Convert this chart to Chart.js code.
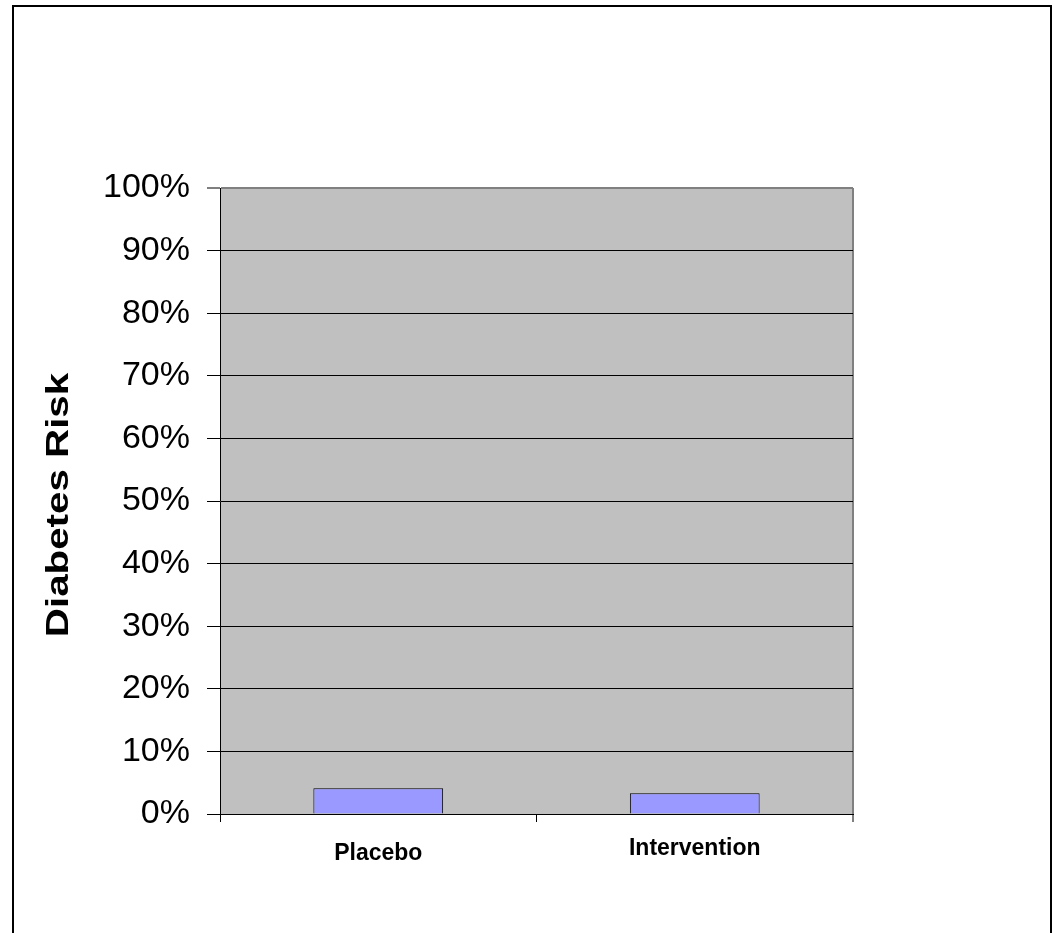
<!DOCTYPE html>
<html>
<head>
<meta charset="utf-8">
<script src="https://cdn.jsdelivr.net/npm/chart.js@4/dist/chart.umd.min.js"></script>
<style>
  html, body { margin: 0; padding: 0; background: #fff; overflow: hidden; }
  #c { position: absolute; left: 0; top: 0; }
  #frame {
    position: absolute; left: 12px; top: 5px; width: 1040px; height: 1000px;
    border: 2px solid #000; box-sizing: border-box; pointer-events: none;
  }
</style>
</head>
<body>
<canvas id="c" width="1054" height="933"></canvas>
<div id="frame"></div>
<script>
// Chart data
const categories = ['Placebo', 'Intervention'];
const riskPercent = [4.1, 3.3];
const yTickLabels = ['0%', '10%', '20%', '30%', '40%', '50%', '60%', '70%', '80%', '90%', '100%'];

Chart.defaults.font.family = '"Liberation Sans", Arial, sans-serif';
Chart.defaults.color = '#000';

// Grey plot-area fill behind the gridlines
const plotBackground = {
  id: 'plotBackground',
  beforeDraw(chart) {
    const { ctx, chartArea: a } = chart;
    ctx.save();
    ctx.fillStyle = '#C0C0C0';
    ctx.fillRect(a.left, a.top, a.right - a.left, a.bottom - a.top);
    ctx.restore();
  }
};

// Axis title is drawn stretched along its baseline
const stretchedTitle = {
  id: 'stretchedTitle',
  afterLayout(chart) {
    const s = chart.scales.y;
    if (s._stretchPatched) return;
    const orig = s.drawTitle.bind(s);
    s.drawTitle = function () {
      const ctx = this.ctx;
      const cy = (this.top + this.bottom) / 2;
      ctx.save();
      ctx.translate(0, cy + 4);
      ctx.scale(1, 1.3);
      ctx.translate(0, -cy);
      orig();
      ctx.restore();
    };
    s._stretchPatched = true;
  }
};

// First category label sits a little lower than the second
const labelNudge = {
  id: 'labelNudge',
  beforeDraw(chart) {
    const items = chart.scales.x.getLabelItems();
    if (items.length && !items[0]._nudged) {
      items[0].options.translation[1] += 5;
      items[0]._nudged = true;
    }
  }
};

new Chart(document.getElementById('c'), {
  type: 'bar',
  data: {
    labels: categories,
    datasets: [{
      data: riskPercent,
      backgroundColor: '#9999FF',
      borderColor: '#000',
      borderWidth: 1,
      barPercentage: 0.41,
      categoryPercentage: 1
    }]
  },
  options: {
    responsive: false,
    animation: false,
    devicePixelRatio: 1,
    layout: { padding: { left: 0, top: 188, right: 201, bottom: 59 } },
    plugins: { legend: { display: false }, tooltip: { enabled: false } },
    scales: {
      x: {
        afterFit(s) { s.height = 60; },
        grid: {
          drawOnChartArea: true,
          color: c => (c.type === 'scale' ? '#808080' : 'rgba(0,0,0,0)'),
          lineWidth: c => (c.type === 'scale' ? 2 : 1),
          drawTicks: true,
          tickLength: 8,
          tickColor: '#000',
          tickWidth: 1
        },
        border: { display: true, color: '#000', width: 1 },
        ticks: {
          color: '#000',
          padding: 13,
          maxRotation: 0,
          autoSkip: false,
          font: { size: 23, weight: 'bold' }
        }
      },
      y: {
        min: 0,
        max: 100,
        afterFit(s) { s.width = 220; },
        ticks: {
          stepSize: 10,
          padding: 17,
          color: '#000',
          font: { size: 34 },
          callback: (v, i) => yTickLabels[i]
        },
        grid: {
          color: c => (c.tick && c.tick.value === 100 ? '#808080' : '#000'),
          lineWidth: c => (c.tick && c.tick.value === 100 ? 2 : 1),
          tickColor: '#000',
          tickLength: 13,
          tickWidth: 1
        },
        border: { display: true, color: '#000', width: 1 },
        title: {
          display: true,
          text: 'Diabetes Risk',
          color: '#000',
          font: { size: 31, weight: 'bold' },
          padding: { top: 41, bottom: 0 }
        }
      }
    }
  },
  plugins: [plotBackground, stretchedTitle, labelNudge]
});
</script>
</body>
</html>
